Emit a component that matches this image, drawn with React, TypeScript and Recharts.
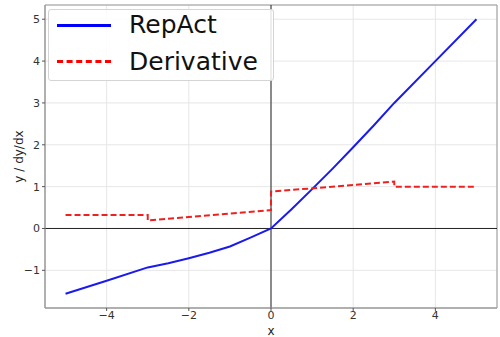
import {
  LineChart,
  Line,
  XAxis,
  YAxis,
  CartesianGrid,
  ReferenceLine,
  ReferenceArea,
} from 'recharts';

// values
const repActX = [-5, -4, -3, -2.5, -2, -1.5, -1, -0.5, 0, 0.5, 1, 1.5, 2, 2.5, 3, 4, 5];
const repActY = [-1.56, -1.25, -0.93, -0.83, -0.71, -0.58, -0.43, -0.22, 0, 0.46, 0.94, 1.43, 1.94, 2.46, 3.0, 4.0, 5.0];

const derivX = [-5, -3, -3, 0, 0, 3, 3, 5];
const derivY = [0.32, 0.32, 0.19, 0.44, 0.88, 1.12, 1.0, 1.0];

const xTicks = [-4, -2, 0, 2, 4];
const yTicks = [-1, 0, 1, 2, 3, 4, 5];

const repActData = repActX.map((x, i) => ({ x, y: repActY[i] }));
const derivData = derivX.map((x, i) => ({ x, y: derivY[i] }));

const font = '"DejaVu Sans", sans-serif';
const fmt = (v: number) => String(v).replace('-', '\u2212');

function LegendBox() {
  return (
    <div
      style={{
        position: 'absolute',
        left: 48,
        top: 9,
        width: 224,
        height: 70,
        border: '1px solid #d4d4d4',
        borderRadius: 3,
        background: 'rgba(255,255,255,0.85)',
        fontFamily: font,
        fontSize: 25,
        color: '#111',
      }}
    >
      <div style={{ position: 'absolute', top: 14, left: 8, width: 54, borderTop: '3px solid #0000ff' }} />
      <span style={{ position: 'absolute', top: 0, left: 80, lineHeight: '30px' }}>RepAct</span>
      <div style={{ position: 'absolute', top: 50, left: 8, width: 54, borderTop: '3px dashed #ff0000' }} />
      <span style={{ position: 'absolute', top: 37, left: 80, lineHeight: '30px' }}>Derivative</span>
    </div>
  );
}

export default function App() {
  return (
    <div style={{ position: 'absolute', left: 0, top: 0, width: 500, height: 337, background: '#fff' }}>
      <LineChart width={500} height={337} margin={{ top: 5, right: 3, bottom: 0, left: 0 }}>
        <CartesianGrid stroke="#e6e6e6" horizontal vertical />
        <XAxis
          type="number"
          dataKey="x"
          domain={[-5.5, 5.5]}
          ticks={xTicks}
          tickFormatter={fmt}
          allowDuplicatedCategory={false}
          height={29}
          axisLine={{ stroke: '#999' }}
          tickLine={{ stroke: '#555' }}
          tickSize={3}
          tickMargin={0}
          tick={{ fontSize: 11, fill: '#333', fontFamily: font }}
          label={{ value: 'x', position: 'insideBottom', offset: 2, fontSize: 12, fill: '#222', fontFamily: font }}
        />
        <YAxis
          type="number"
          domain={[-1.9, 5.34]}
          ticks={yTicks}
          tickFormatter={fmt}
          width={45}
          axisLine={{ stroke: '#999' }}
          tickLine={{ stroke: '#555' }}
          tickSize={3}
          tick={{ fontSize: 11, fill: '#333', fontFamily: font }}
          label={{ value: 'y / dy/dx', angle: -90, position: 'insideLeft', offset: 19, fontSize: 12, fill: '#222', fontFamily: font, style: { textAnchor: 'middle' } }}
        />
        <ReferenceArea x1={-5.5} x2={5.5} y1={-1.9} y2={5.34} fill="none" stroke="#999" strokeWidth={1} />
        <ReferenceLine y={0} stroke="#222" strokeWidth={1} />
        <ReferenceLine x={0} stroke="#222" strokeWidth={1} />
        <Line
          data={repActData}
          dataKey="y"
          type="linear"
          stroke="#1a1aee"
          strokeWidth={2}
          dot={false}
          isAnimationActive={false}
        />
        <Line
          data={derivData}
          dataKey="y"
          type="linear"
          stroke="#ee2020"
          strokeWidth={2}
          strokeDasharray="6 3"
          dot={false}
          isAnimationActive={false}
        />
      </LineChart>
      <LegendBox />
    </div>
  );
}
